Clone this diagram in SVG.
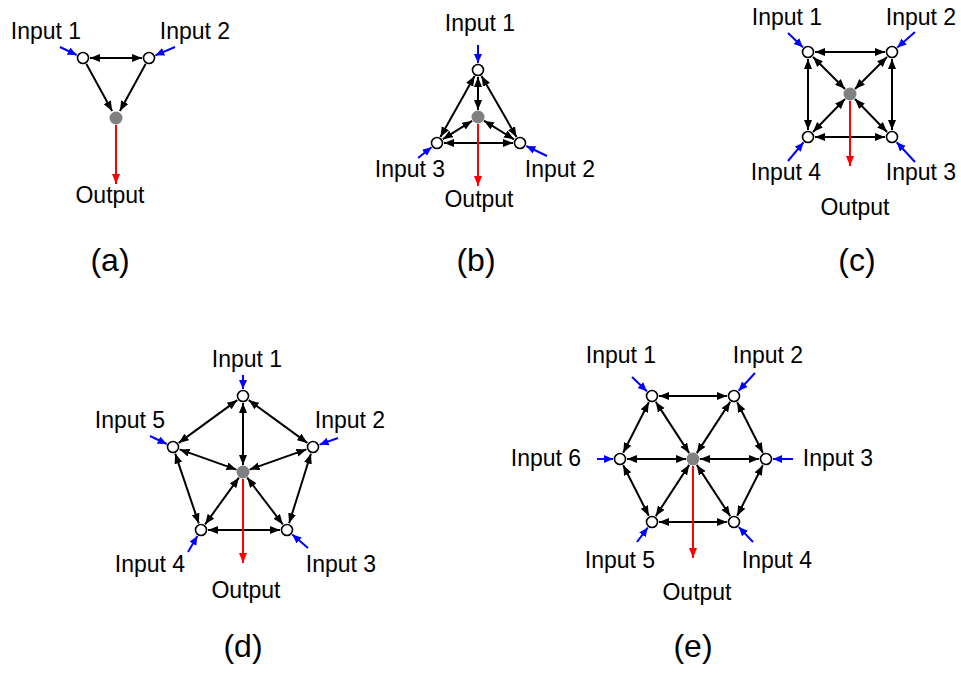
<svg xmlns="http://www.w3.org/2000/svg" width="961" height="675" viewBox="0 0 961 675">
<style>
text{font-family:"Liberation Sans",Arial,sans-serif;font-size:23px;fill:#000;text-anchor:middle}
text.cap{font-size:32px}
.e{stroke:#000;stroke-width:2;fill:none;marker-start:url(#ab);marker-end:url(#ab)}
.e1{stroke:#000;stroke-width:2;fill:none;marker-end:url(#ab)}
.in{stroke:#0000ff;stroke-width:2;fill:none;marker-end:url(#abl)}
.out{stroke:#ff0000;stroke-width:2;fill:none;marker-end:url(#ar)}
.n{fill:#fff;stroke:#000;stroke-width:1.6}
.c{fill:#808080;stroke:none}
</style>
<defs>
<marker id="ab" markerUnits="userSpaceOnUse" markerWidth="11" markerHeight="9" refX="10" refY="4" orient="auto-start-reverse"><path d="M0,0 L10,4 L0,8 z" fill="#000"/></marker>
<marker id="abl" markerUnits="userSpaceOnUse" markerWidth="10" markerHeight="9" refX="9" refY="4" orient="auto"><path d="M0,0 L9,4 L0,8 z" fill="#0000ff"/></marker>
<marker id="ar" markerUnits="userSpaceOnUse" markerWidth="11" markerHeight="9" refX="10" refY="4" orient="auto"><path d="M0,0 L10,4 L0,8 z" fill="#ff0000"/></marker>
</defs>
<rect width="961" height="675" fill="#fff"/>

<g id="connectors">
<!-- (a) -->
<line class="e" x1="90" y1="58" x2="142" y2="58"/>
<line class="e1" x1="86.4" y1="64.1" x2="112.1" y2="111"/>
<line class="e1" x1="145.6" y1="64.1" x2="119.9" y2="111"/>
<line class="out" x1="116" y1="125" x2="116" y2="184"/>
<line class="in" x1="60" y1="47" x2="76.7" y2="55"/>
<line class="in" x1="175" y1="47" x2="155.4" y2="55.3"/>
<!-- (b) -->
<line class="e" x1="474.6" y1="76.1" x2="440.4" y2="136.9"/>
<line class="e" x1="481.5" y1="76.1" x2="516.5" y2="136.9"/>
<line class="e" x1="444" y1="143" x2="513" y2="143"/>
<line class="e" x1="478" y1="77" x2="478" y2="110"/>
<line class="e" x1="442.9" y1="139.2" x2="472.1" y2="120.8"/>
<line class="e" x1="514" y1="139.3" x2="484" y2="120.7"/>
<line class="out" x1="478" y1="124" x2="478" y2="186"/>
<line class="in" x1="478" y1="45" x2="478" y2="63"/>
<line class="in" x1="418" y1="158" x2="431.5" y2="147.3"/>
<line class="in" x1="547" y1="156" x2="526.3" y2="146"/>
<!-- (c) -->
<line class="e" x1="815" y1="52" x2="885" y2="52"/>
<line class="e" x1="815" y1="137" x2="885" y2="137"/>
<line class="e" x1="808" y1="59" x2="808" y2="130"/>
<line class="e" x1="892" y1="59" x2="892" y2="130"/>
<line class="e" x1="813" y1="57" x2="845" y2="89"/>
<line class="e" x1="887" y1="57" x2="855" y2="89"/>
<line class="e" x1="813" y1="132" x2="845" y2="99"/>
<line class="e" x1="887" y1="132" x2="855" y2="99"/>
<line class="out" x1="850" y1="101" x2="850" y2="166"/>
<line class="in" x1="788" y1="33" x2="802.9" y2="47.2"/>
<line class="in" x1="915" y1="32" x2="897.3" y2="47.4"/>
<line class="in" x1="788" y1="161" x2="803.5" y2="142.4"/>
<line class="in" x1="915" y1="162" x2="896.7" y2="142.2"/>
<!-- (d) -->
<line class="e" x1="248.7" y1="400.1" x2="307.3" y2="442.9"/>
<line class="e" x1="237.3" y1="400.1" x2="178.7" y2="442.9"/>
<line class="e" x1="310.9" y1="453.7" x2="289.1" y2="523.3"/>
<line class="e" x1="175.2" y1="453.6" x2="198.8" y2="523.4"/>
<line class="e" x1="208" y1="530" x2="280" y2="530"/>
<line class="e" x1="243" y1="403" x2="243" y2="465"/>
<line class="e" x1="306.4" y1="449.4" x2="249.6" y2="469.6"/>
<line class="e" x1="179.6" y1="449.4" x2="236.4" y2="469.6"/>
<line class="e" x1="205.1" y1="524.3" x2="238.9" y2="477.7"/>
<line class="e" x1="282.8" y1="524.4" x2="247.2" y2="477.6"/>
<line class="out" x1="243" y1="479" x2="243" y2="563"/>
<line class="in" x1="243" y1="375" x2="243" y2="389"/>
<line class="in" x1="150" y1="436" x2="166.7" y2="444"/>
<line class="in" x1="338" y1="438" x2="319.6" y2="444.6"/>
<line class="in" x1="188" y1="552" x2="197.4" y2="536"/>
<line class="in" x1="308" y1="548" x2="292.3" y2="534.6"/>
<!-- (e) -->
<line class="e" x1="659" y1="396" x2="727" y2="396"/>
<line class="e" x1="659" y1="522" x2="727" y2="522"/>
<line class="e" x1="648.8" y1="402.2" x2="623.2" y2="452.8"/>
<line class="e" x1="737.2" y1="402.2" x2="762.8" y2="452.8"/>
<line class="e" x1="623.2" y1="465.2" x2="648.8" y2="515.8"/>
<line class="e" x1="762.8" y1="465.2" x2="737.2" y2="515.8"/>
<line class="e" x1="655.8" y1="401.9" x2="689.2" y2="453.1"/>
<line class="e" x1="730.2" y1="401.9" x2="696.8" y2="453.1"/>
<line class="e" x1="655.8" y1="516.1" x2="689.2" y2="464.9"/>
<line class="e" x1="730.2" y1="516.1" x2="696.8" y2="464.9"/>
<line class="e" x1="627" y1="459" x2="686" y2="459"/>
<line class="e" x1="759" y1="459" x2="700" y2="459"/>
<line class="out" x1="693" y1="466" x2="693" y2="558"/>
<line class="in" x1="632" y1="377" x2="646.9" y2="391.2"/>
<line class="in" x1="755" y1="373" x2="738.7" y2="390.8"/>
<line class="in" x1="597" y1="459" x2="613" y2="459"/>
<line class="in" x1="793" y1="459" x2="773" y2="459"/>
<line class="in" x1="637" y1="542" x2="647.8" y2="527.6"/>
<line class="in" x1="753" y1="542" x2="738.8" y2="527.1"/>
</g>

<!-- (a) nodes -->
<g id="a-in1"><circle class="n" cx="83" cy="58" r="5.5"/><text x="46" y="39">Input 1</text></g>
<g id="a-in2"><circle class="n" cx="149" cy="58" r="5.5"/><text x="195" y="39">Input 2</text></g>
<g id="a-center"><circle class="c" cx="116" cy="118" r="6.5"/></g>
<g id="a-out"><text x="110" y="203">Output</text></g>
<g id="a-cap"><text class="cap" x="110" y="271">(a)</text></g>

<!-- (b) -->
<g id="b-in1"><circle class="n" cx="478" cy="70" r="5.5"/><text x="480" y="31">Input 1</text></g>
<g id="b-in2"><circle class="n" cx="520" cy="143" r="5.5"/><text x="560" y="177">Input 2</text></g>
<g id="b-in3"><circle class="n" cx="437" cy="143" r="5.5"/><text x="410" y="177">Input 3</text></g>
<g id="b-center"><circle class="c" cx="478" cy="117" r="6.5"/></g>
<g id="b-out"><text x="479" y="207">Output</text></g>
<g id="b-cap"><text class="cap" x="476" y="271">(b)</text></g>

<!-- (c) -->
<g id="c-in1"><circle class="n" cx="808" cy="52" r="5.5"/><text x="787" y="25">Input 1</text></g>
<g id="c-in2"><circle class="n" cx="892" cy="52" r="5.5"/><text x="921" y="25">Input 2</text></g>
<g id="c-in3"><circle class="n" cx="892" cy="137" r="5.5"/><text x="921" y="180">Input 3</text></g>
<g id="c-in4"><circle class="n" cx="808" cy="137" r="5.5"/><text x="786" y="180">Input 4</text></g>
<g id="c-center"><circle class="c" cx="850" cy="94" r="6.5"/></g>
<g id="c-out"><text x="855" y="215">Output</text></g>
<g id="c-cap"><text class="cap" x="857" y="271">(c)</text></g>

<!-- (d) -->
<g id="d-in1"><circle class="n" cx="243" cy="396" r="5.5"/><text x="247" y="367">Input 1</text></g>
<g id="d-in2"><circle class="n" cx="313" cy="447" r="5.5"/><text x="350" y="428">Input 2</text></g>
<g id="d-in3"><circle class="n" cx="287" cy="530" r="5.5"/><text x="341" y="572">Input 3</text></g>
<g id="d-in4"><circle class="n" cx="201" cy="530" r="5.5"/><text x="150" y="572">Input 4</text></g>
<g id="d-in5"><circle class="n" cx="173" cy="447" r="5.5"/><text x="130" y="428">Input 5</text></g>
<g id="d-center"><circle class="c" cx="243" cy="472" r="6.5"/></g>
<g id="d-out"><text x="246" y="598">Output</text></g>
<g id="d-cap"><text class="cap" x="243" y="657">(d)</text></g>

<!-- (e) -->
<g id="e-in1"><circle class="n" cx="652" cy="396" r="5.5"/><text x="621" y="363">Input 1</text></g>
<g id="e-in2"><circle class="n" cx="734" cy="396" r="5.5"/><text x="768" y="363">Input 2</text></g>
<g id="e-in3"><circle class="n" cx="766" cy="459" r="5.5"/><text x="838" y="466">Input 3</text></g>
<g id="e-in4"><circle class="n" cx="734" cy="522" r="5.5"/><text x="777" y="568">Input 4</text></g>
<g id="e-in5"><circle class="n" cx="652" cy="522" r="5.5"/><text x="620" y="568">Input 5</text></g>
<g id="e-in6"><circle class="n" cx="620" cy="459" r="5.5"/><text x="546" y="466">Input 6</text></g>
<g id="e-center"><circle class="c" cx="693" cy="459" r="6.5"/></g>
<g id="e-out"><text x="697" y="600">Output</text></g>
<g id="e-cap"><text class="cap" x="693" y="657">(e)</text></g>
</svg>
